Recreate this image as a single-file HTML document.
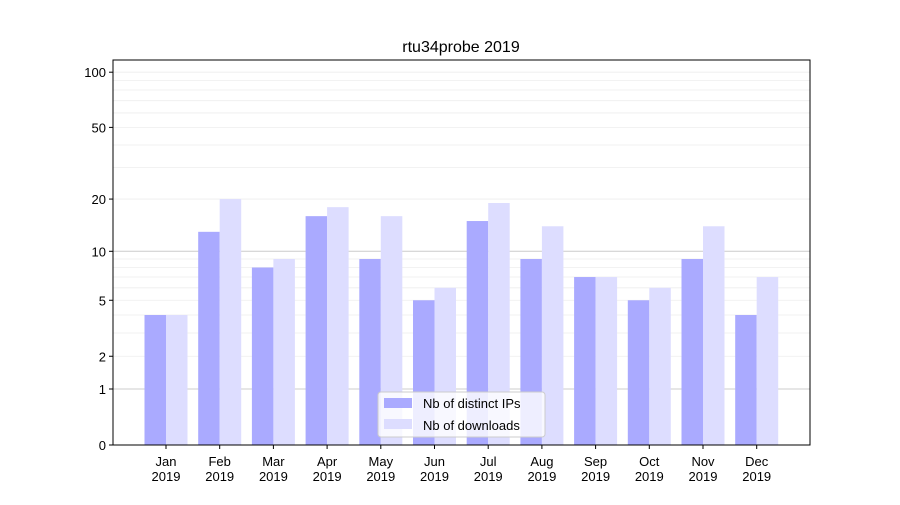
<!DOCTYPE html>
<html><head><meta charset="utf-8"><style>
body{margin:0;background:#fff;}
svg text{font-family:"Liberation Sans","DejaVu Sans",sans-serif;fill:#000;}
</style></head><body>
<svg id="chart" width="900" height="500" xmlns="http://www.w3.org/2000/svg">
<rect width="900" height="500" fill="#fff"/>
<text x="461" y="52" font-size="16" text-anchor="middle">rtu34probe 2019</text>
<g id="grid"></g><g id="bars"></g><g id="axes"></g>
<g>
<rect x="378" y="392" width="167" height="45" fill="#fff" fill-opacity="0.8" stroke="#ccc" rx="3"/>
<rect x="384" y="398" width="28" height="10" fill="#aaaaff"/>
<text x="423" y="408" font-size="13">Nb of distinct IPs</text>
<rect x="384" y="419" width="28" height="10" fill="#ddddff"/>
<text x="423" y="430" font-size="13">Nb of downloads</text>
</g>
</svg>
<script>
const months=["Jan","Feb","Mar","Apr","May","Jun","Jul","Aug","Sep","Oct","Nov","Dec"];
const ips=[4,13,8,16,9,5,15,9,7,5,9,4];
const downloads=[4,20,9,18,16,6,19,14,7,6,14,7];
const yTicks=[0,1,2,5,10,20,50,100];
const NS="http://www.w3.org/2000/svg";
const L=113,R=810,T=60,B=445;
function y(v){return B-186*Math.log10(1+v);}
function xc(i){return 166+i*53.7;}
function mk(tag,attrs,parent){const e=document.createElementNS(NS,tag);for(const k in attrs)e.setAttribute(k,attrs[k]);document.getElementById(parent).appendChild(e);return e;}
const minor=[2,3,4,5,6,7,8,9,20,30,40,50,60,70,80,90,100];
minor.forEach(v=>{const l=mk("line",{x1:L,x2:R,y1:y(v),y2:y(v),stroke:"#eee","stroke-width":0.8},"grid");

});
[1,10].forEach(v=>{const l=mk("line",{x1:L,x2:R,y1:y(v),y2:y(v),stroke:"#ccc","stroke-width":1},"grid");

});
months.forEach((m,i)=>{
const a=mk("rect",{x:xc(i)-21.5,y:y(ips[i]),width:21.5,height:B-y(ips[i]),fill:"#aaaaff"},"bars");


const b=mk("rect",{x:xc(i),y:y(downloads[i]),width:21.5,height:B-y(downloads[i]),fill:"#ddddff"},"bars");


mk("line",{x1:xc(i),x2:xc(i),y1:B,y2:B+4,stroke:"#000"},"axes");
const t=mk("text",{x:xc(i),y:B+21,"font-size":13,"text-anchor":"middle"},"axes");t.textContent=m;


const t2=mk("text",{x:xc(i),y:B+36,"font-size":13,"text-anchor":"middle"},"axes");t2.textContent="2019";


});
yTicks.forEach(v=>{mk("line",{x1:L-4,x2:L,y1:y(v),y2:y(v),stroke:"#000"},"axes");
const t=mk("text",{x:L-7,y:y(v)+5,"font-size":13,"text-anchor":"end"},"axes");t.textContent=v;

});
const f=mk("rect",{x:L,y:T,width:R-L,height:B-T,fill:"none",stroke:"#000","stroke-width":1},"axes");


</script>
</body></html>
